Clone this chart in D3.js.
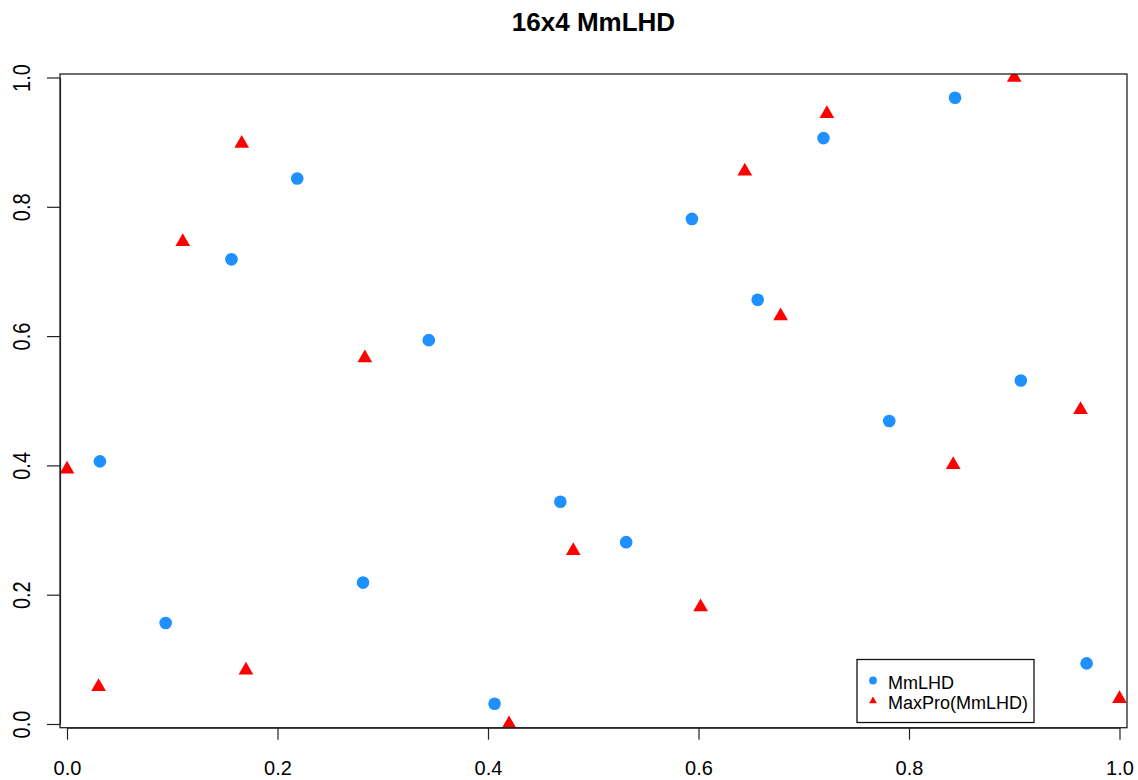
<!DOCTYPE html>
<html>
<head>
<meta charset="utf-8">
<script src="https://cdn.jsdelivr.net/npm/d3@7"></script>
<style>
  html, body { margin: 0; padding: 0; background: #fff; }
  svg text { font-family: "Liberation Sans", Arial, sans-serif; fill: #000; }
</style>
</head>
<body>
<svg id="chart" width="1138" height="780"></svg>
<script>
// 16-run design, first two factors of the 16x4 MmLHD and its MaxPro refinement
const mmlhdX = [0.03125, 0.09375, 0.15625, 0.21875, 0.28125, 0.34375, 0.40625, 0.46875,
                0.53125, 0.59375, 0.65625, 0.71875, 0.78125, 0.84375, 0.90625, 0.96875];
const mmlhdY = [0.40625, 0.15625, 0.71875, 0.84375, 0.21875, 0.59375, 0.03125, 0.34375,
                0.28125, 0.78125, 0.65625, 0.90625, 0.46875, 0.96875, 0.53125, 0.09375];
const maxproX = [0.000, 0.030, 0.110, 0.166, 0.170, 0.283, 0.420, 0.481,
                 0.602, 0.644, 0.678, 0.722, 0.842, 0.900, 0.963, 1.000];
const maxproY = [0.394, 0.0575, 0.746, 0.898, 0.083, 0.566, 0.000, 0.268,
                 0.181, 0.855, 0.631, 0.944, 0.401, 1.000, 0.486, 0.039];
const tickValues = [0, 0.2, 0.4, 0.6, 0.8, 1.0];
const seriesNames = ["MmLHD", "MaxPro(MmLHD)"];
const chartTitle = "16x4 MmLHD";

const svg = d3.select("#chart");

// plotting region (box) and data range inside it
const box = { left: 60, right: 1127, top: 74, bottom: 727.7 };
const x = d3.scaleLinear().domain([0, 1]).range([67, 1119.5]);
const y = d3.scaleLinear().domain([0, 1]).range([724, 77.5]);

const blue = "#1E90FF", red = "#FF0000";

// title
svg.append("text")
  .attr("x", (box.left + box.right) / 2)
  .attr("y", 31)
  .attr("text-anchor", "middle")
  .style("font-size", "26px")
  .style("font-weight", "bold")
  .text(chartTitle);

// clip points to the plotting box
svg.append("defs").append("clipPath").attr("id", "plotClip")
  .append("rect")
  .attr("x", box.left).attr("y", box.top)
  .attr("width", box.right - box.left).attr("height", box.bottom - box.top);

const pts = svg.append("g").attr("clip-path", "url(#plotClip)");

pts.selectAll("circle.mm")
  .data(d3.zip(mmlhdX, mmlhdY))
  .join("circle")
  .attr("class", "mm")
  .attr("cx", d => x(d[0]))
  .attr("cy", d => y(d[1]))
  .attr("r", 6.3)
  .attr("fill", blue);

const tri = d3.symbol().type(d3.symbolTriangle).size(94);
pts.selectAll("path.mp")
  .data(d3.zip(maxproX, maxproY))
  .join("path")
  .attr("class", "mp")
  .attr("d", tri)
  .attr("transform", d => `translate(${x(d[0])},${y(d[1])})`)
  .attr("fill", red);

// axes
const xAxis = d3.axisBottom(x).tickValues(tickValues).tickFormat(d3.format(".1f"))
  .tickSize(12).tickSizeOuter(0).tickPadding(0);
const gx = svg.append("g").attr("transform", `translate(0,${box.bottom})`).call(xAxis);
gx.selectAll("text").remove();
gx.selectAll(".tick").append("text")
  .attr("y", 775 - box.bottom)
  .attr("text-anchor", "middle")
  .style("font-size", "20px")
  .text(d => d3.format(".1f")(d));

const yAxis = d3.axisLeft(y).tickValues(tickValues).tickSize(13).tickSizeOuter(0);
const gy = svg.append("g").attr("transform", `translate(${box.left},0)`).call(yAxis);
gy.selectAll("text").remove();
gy.selectAll(".tick").append("text")
  .attr("transform", `translate(${30 - box.left},0) rotate(-90) scale(1,1.2)`)
  .attr("text-anchor", "middle")
  .style("font-size", "20px")
  .text(d => d3.format(".1f")(d));

svg.selectAll(".domain, .tick line").attr("stroke", "#222").attr("stroke-width", 1.2);

// frame around the plotting region
svg.append("rect")
  .attr("x", box.left).attr("y", box.top)
  .attr("width", box.right - box.left).attr("height", box.bottom - box.top)
  .attr("fill", "none").attr("stroke", "#222").attr("stroke-width", 1.3);

// legend
const lg = svg.append("g");
lg.append("rect")
  .attr("x", 857).attr("y", 659.5).attr("width", 177).attr("height", 63)
  .attr("fill", "#fff").attr("stroke", "#111").attr("stroke-width", 1.3);
const rows = [
  { name: seriesNames[0], color: blue, shape: "circle", cy: 680.5, base: 689 },
  { name: seriesNames[1], color: red, shape: "triangle", cy: 701, base: 708.5 }
];
rows.forEach(r => {
  if (r.shape === "circle") {
    lg.append("circle").attr("cx", 873).attr("cy", r.cy).attr("r", 3.9).attr("fill", r.color);
  } else {
    lg.append("path").attr("d", d3.symbol().type(d3.symbolTriangle).size(27)())
      .attr("transform", `translate(873,${r.cy})`).attr("fill", r.color);
  }
  lg.append("text").attr("x", 888).attr("y", r.base)
    .style("font-size", "18px").text(r.name);
});
</script>
</body>
</html>
